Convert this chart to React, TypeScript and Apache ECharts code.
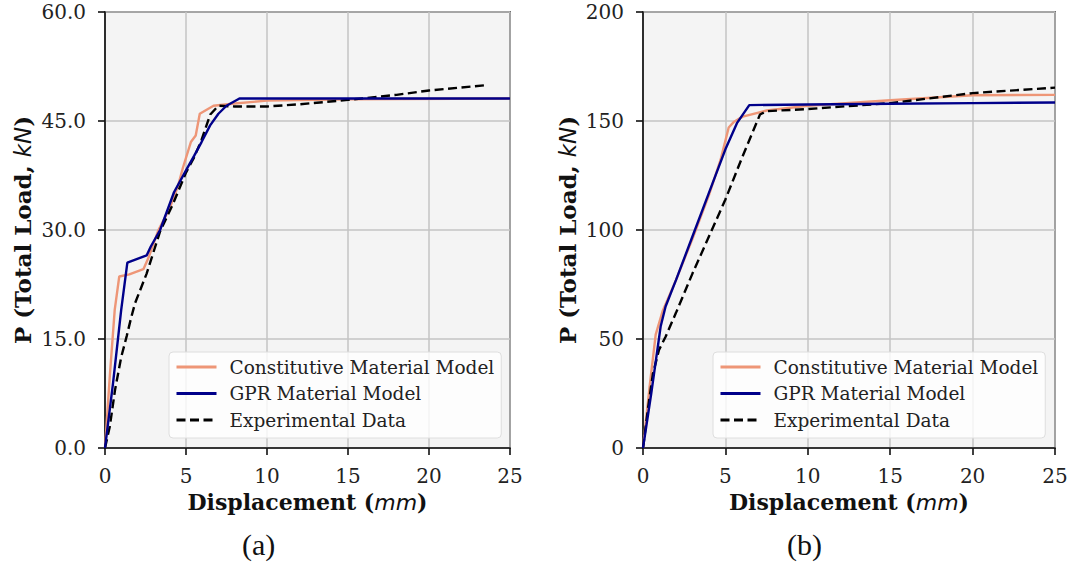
import React, { useEffect, useRef } from "react";
import * as echarts from "echarts";

// ---------- data ----------
const xTicks = [0, 5, 10, 15, 20, 25];
const yTicksA = [0, 15, 30, 45, 60];
const yTicksB = [0, 50, 100, 150, 200];

const seriesNames = ["Constitutive Material Model", "GPR Material Model", "Experimental Data"];

// (a)
const constitutiveA = [
  [0, 0], [0.3, 10], [0.6, 19], [0.88, 23.6], [1.5, 23.9], [2.37, 24.6], [2.67, 26.1],
  [3.3, 30], [4.0, 33], [4.5, 36], [4.8, 38.5], [5.3, 42.1], [5.6, 43], [5.85, 46],
  [6.7, 47.1], [8, 47.4], [10, 47.8], [15, 48], [25, 48.1],
];
const gprA = [
  [0, 0], [0.5, 9], [1.0, 19], [1.38, 25.5], [2.57, 26.5], [2.82, 27.7], [3.4, 30],
  [4.26, 35.2], [5, 38.2], [5.5, 40.2], [5.96, 42.1], [6.49, 44.4], [7, 46], [7.5, 47.1],
  [8.3, 48.1], [25, 48.1],
];
const experimentalA = [
  [0, 0], [0.3, 3], [0.62, 8], [1.0, 12.5], [1.34, 15.4], [1.6, 17.8], [1.85, 19.9],
  [2.57, 24], [3.4, 29.8], [4.2, 33.6], [5, 37.9], [5.5, 40], [5.96, 42.4], [6.5, 45.9],
  [7, 47.1], [8, 47], [10, 47], [12, 47.3], [15, 47.9], [18, 48.6], [20, 49.2], [23.4, 49.9],
];

// (b)
const constitutiveB = [
  [0, 0], [0.4, 28], [0.77, 52], [1.2, 63], [2, 77], [3, 96], [4, 116], [4.7, 132],
  [5.2, 147], [5.5, 149.5], [6.05, 152], [7.5, 154.8], [10, 157], [15, 159.5],
  [20, 161.8], [25, 162],
];
const gprB = [
  [0, 0], [0.5, 25], [1.07, 55.7], [1.37, 64.9], [2, 77], [3, 97], [4, 117], [5, 137],
  [5.7, 149], [6.45, 157.3], [10, 157.6], [15, 157.9], [20, 158.2], [25, 158.5],
];
const experimentalB = [
  [0, 0], [0.3, 18], [0.6, 34], [0.97, 45], [1.37, 51], [2, 62], [3, 80], [4, 97],
  [5, 114], [6, 133], [7.1, 153], [7.5, 154.5], [10, 155.5], [15, 158.2], [20, 162.8],
  [25, 165.3],
];

const captions = ["(a)", "(b)"];

// ---------- style ----------
const SALMON = "#EE9677";
const NAVY = "#00008A";
const SERIF = "DejaVu Serif";

export default function App() {
  const ref = useRef<HTMLDivElement>(null);

  useEffect(() => {
    if (!ref.current) return;
    const chart = echarts.init(ref.current, undefined, { renderer: "svg" });

    const grids = [
      { left: 105, top: 12, width: 405, height: 436 },
      { left: 643, top: 12, width: 412, height: 436 },
    ];

    const nameStyle = (size: number) => ({
      fontFamily: SERIF,
      fontWeight: "bold",
      fontSize: size,
      color: "#111",
      rich: {
        i: { fontFamily: "DejaVu Sans", fontStyle: "italic", fontWeight: "normal", fontSize: size, color: "#111" },
      },
    });

    const xAxis = grids.map((_, i) => ({
      type: "value",
      gridIndex: i,
      min: xTicks[0],
      max: xTicks[xTicks.length - 1],
      interval: xTicks[1] - xTicks[0],
      name: "Displacement ({i|mm})",
      nameLocation: "middle",
      nameGap: 43,
      nameTextStyle: nameStyle(22),
      axisLine: { show: true, lineStyle: { color: "#111", width: 1.6 } },
      axisTick: { show: true, length: 7, inside: false, lineStyle: { color: "#111", width: 1.6 } },
      axisLabel: { fontFamily: SERIF, fontSize: 20, color: "#222", margin: 18 },
      splitLine: { show: true, lineStyle: { color: "#c4c4c4", width: 1.5 } },
    }));

    const yAxis = [
      { ticks: yTicksA, fmt: (v: number) => v.toFixed(1) },
      { ticks: yTicksB, fmt: (v: number) => String(v) },
    ].map((d, i) => ({
      type: "value",
      gridIndex: i,
      min: d.ticks[0],
      max: d.ticks[d.ticks.length - 1],
      interval: d.ticks[1] - d.ticks[0],
      name: "P (Total Load, {i|kN})",
      nameLocation: "middle",
      nameRotate: 90,
      nameGap: i === 0 ? 71 : 64,
      nameTextStyle: nameStyle(23),
      axisLine: { show: true, lineStyle: { color: "#111", width: 1.6 } },
      axisTick: { show: true, length: 7, inside: false, lineStyle: { color: "#111", width: 1.6 } },
      axisLabel: { fontFamily: SERIF, fontSize: 20, color: "#222", margin: 19, formatter: d.fmt },
      splitLine: { show: true, lineStyle: { color: "#c4c4c4", width: 1.5 } },
    }));

    const mk = (name: string, data: number[][], idx: number, color: string, dashed: boolean) => ({
      name,
      type: "line",
      xAxisIndex: idx,
      yAxisIndex: idx,
      data,
      symbol: "none",
      showSymbol: false,
      lineStyle: { color, width: 2.4, type: dashed ? [9, 4.5] : "solid" },
      itemStyle: { color },
      z: dashed ? 3 : name.startsWith("GPR") ? 4 : 2,
    });

    const series = [
      mk(seriesNames[0], constitutiveA, 0, SALMON, false),
      mk(seriesNames[1], gprA, 0, NAVY, false),
      mk(seriesNames[2], experimentalA, 0, "#000", true),
      mk(seriesNames[0], constitutiveB, 1, SALMON, false),
      mk(seriesNames[1], gprB, 1, NAVY, false),
      mk(seriesNames[2], experimentalB, 1, "#000", true),
    ];

    const legendBase = {
      orient: "vertical",
      data: seriesNames,
      itemWidth: 40,
      itemHeight: 14,
      itemGap: 6.5,
      padding: [5, 7, 8, 6],
      backgroundColor: "rgba(255,255,255,0.8)",
      borderColor: "#dedede",
      borderWidth: 1,
      borderRadius: 4,
      selectedMode: false,
      itemStyle: { opacity: 0 },
      lineStyle: { width: 3 },
      textStyle: {
        fontFamily: SERIF,
        fontSize: 18.5,
        lineHeight: 20,
        color: "#222",
        padding: [0, 0, 0, 8],
      },
    };

    chart.setOption({
      animation: false,
      grid: grids.map((g) => ({
        ...g,
        show: true,
        backgroundColor: "#f4f4f4",
        borderColor: "#111",
        borderWidth: 1.6,
      })),
      xAxis,
      yAxis,
      series,
      legend: [
        { ...legendBase, left: 169, top: 352 },
        { ...legendBase, left: 713, top: 352 },
      ],
      graphic: captions.map((c, i) => ({
        type: "text",
        left: i === 0 ? 242 : 787,
        top: 529,
        style: {
          text: c,
          fontFamily: "Liberation Serif",
          fontSize: 30,
          fill: "#111",
        },
      })),
    });

    return () => chart.dispose();
  }, []);

  return (
    <div
      ref={ref}
      style={{ position: "fixed", left: 0, top: 0, width: 1073, height: 566, background: "#fff" }}
    />
  );
}
